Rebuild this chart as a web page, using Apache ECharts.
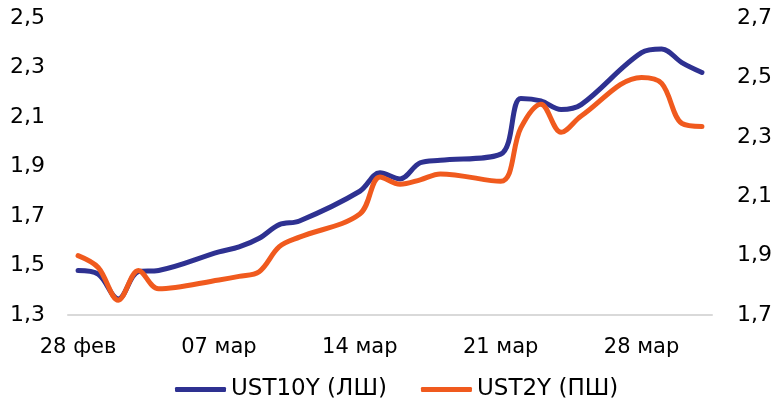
<!DOCTYPE html>
<html><head><meta charset="utf-8">
<script src="https://cdn.jsdelivr.net/npm/echarts@6/dist/echarts.min.js"></script>
<style>html,body{margin:0;padding:0;background:#fff}#c{width:776px;height:408px}</style>
</head><body><div id="c"></div>
<script>
var categories = ['28 фев','01 мар','02 мар','03 мар','04 мар','05 мар','06 мар','07 мар','08 мар','09 мар','10 мар','11 мар','12 мар','13 мар','14 мар','15 мар','16 мар','17 мар','18 мар','19 мар','20 мар','21 мар','22 мар','23 мар','24 мар','25 мар','26 мар','27 мар','28 мар','29 мар','30 мар','31 мар'];
var labelDays = ['28 фев','07 мар','14 мар','21 мар','28 мар'];
var ust10y = [1.48,1.465,1.365,1.475,1.48,null,null,1.555,1.575,1.61,1.665,1.68,null,null,1.80,1.875,1.85,1.915,1.925,null,null,1.95,2.175,2.165,2.13,2.15,null,null,2.36,2.375,2.32,2.28];
var ust2y = [1.90,1.86,1.75,1.85,1.788,null,null,1.818,1.83,1.846,1.93,1.962,null,null,2.04,2.165,2.14,2.155,2.175,null,null,2.15,2.33,2.41,2.315,2.37,null,null,2.50,2.48,2.345,2.335];
var leftTicks = [1.3,1.5,1.7,1.9,2.1,2.3,2.5];
var rightTicks = [1.7,1.9,2.1,2.3,2.5,2.7];

var fmt = function(v){ return v.toFixed(1).replace('.', ','); };
var font = 'DejaVu Sans';
var chart = echarts.init(document.getElementById('c'));
chart.setOption({
  animation: false,
  grid: {left: 68, right: 64, top: 18, bottom: 93, containLabel: false},
  legend: {
    bottom: 2, left: 170, itemWidth: 51, itemHeight: 5, itemGap: 34,
    icon: 'roundRect',
    textStyle: {fontFamily: font, fontSize: 23, color: '#000'},
    data: ['UST10Y (ЛШ)', 'UST2Y (ПШ)']
  },
  xAxis: {
    type: 'category', data: categories, boundaryGap: true,
    axisLine: {lineStyle: {color: '#d9d9d9', width: 2}},
    axisTick: {show: false},
    axisLabel: {
      interval: function(i, v){ return labelDays.indexOf(v) >= 0; },
      fontFamily: font, fontSize: 21, color: '#000', margin: 22
    }
  },
  yAxis: [
    {type: 'value', min: leftTicks[0], max: leftTicks[leftTicks.length-1], interval: 0.2,
     splitLine: {show: false}, axisLine: {show: false}, axisTick: {show: false},
     axisLabel: {formatter: fmt, fontFamily: font, fontSize: 22, color: '#000', margin: 23}},
    {type: 'value', min: rightTicks[0], max: rightTicks[rightTicks.length-1], interval: 0.2,
     splitLine: {show: false}, axisLine: {show: false}, axisTick: {show: false},
     axisLabel: {formatter: fmt, fontFamily: font, fontSize: 22, color: '#000', margin: 25}}
  ],
  series: [
    {name: 'UST10Y (ЛШ)', type: 'line', data: ust10y, yAxisIndex: 0, smooth: 0.35, connectNulls: true,
     symbol: 'none', lineStyle: {color: '#2E3191', width: 5, cap: 'round', join: 'round'}, itemStyle: {color: '#2E3191'}},
    {name: 'UST2Y (ПШ)', type: 'line', data: ust2y, yAxisIndex: 1, smooth: 0.35, connectNulls: true,
     symbol: 'none', lineStyle: {color: '#F05A1E', width: 5, cap: 'round', join: 'round'}, itemStyle: {color: '#F05A1E'}}
  ]
});
</script></body></html>
